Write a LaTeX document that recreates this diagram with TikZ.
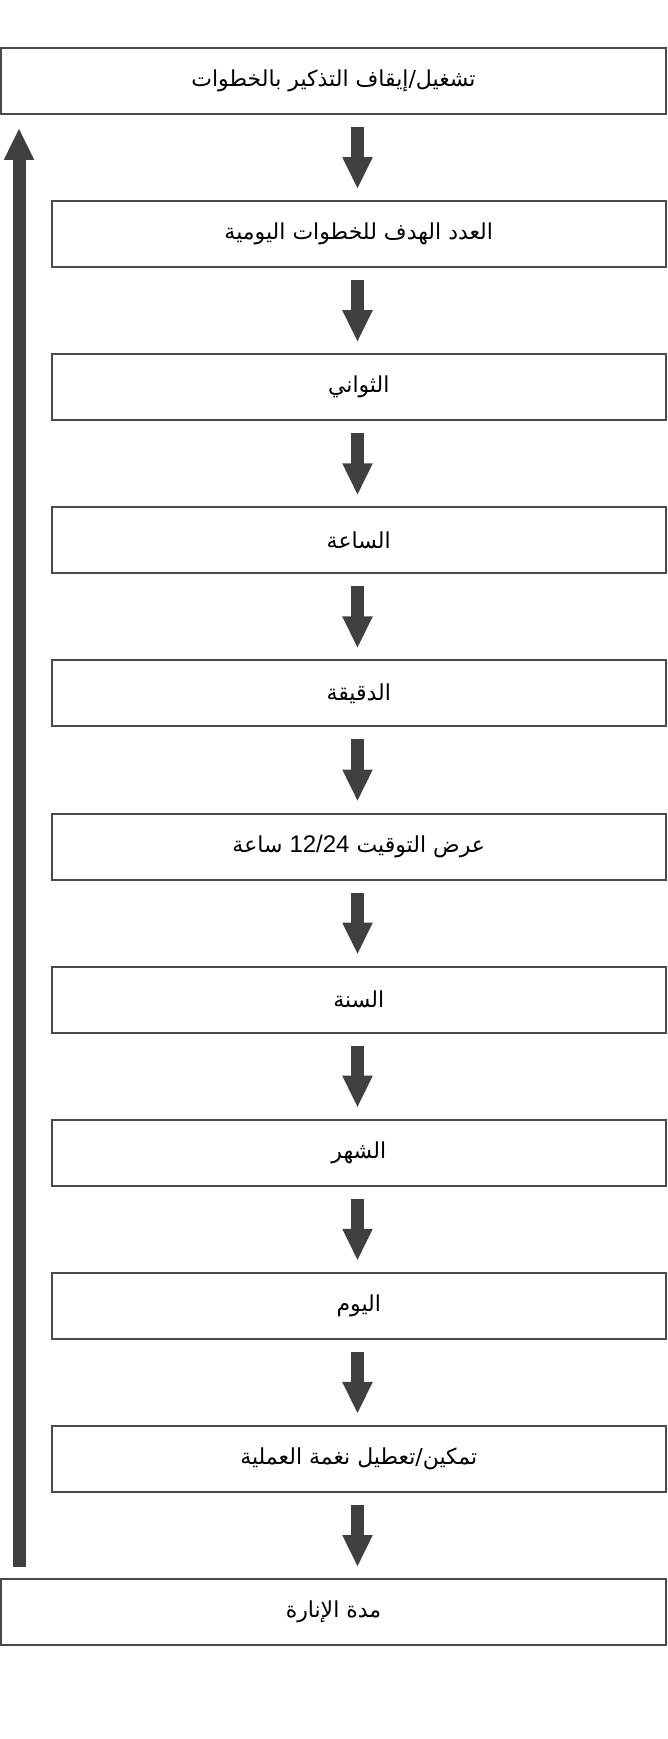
\documentclass[tikz,border=0pt]{standalone}
\usepackage{fontspec}
\usetikzlibrary{arrows.meta}
\TeXXeTstate=1
\newfontfamily\arabicfont[Script=Arabic]{DejaVu Sans}
\newfontfamily\latinsans{Liberation Sans}
\definecolor{bordercol}{HTML}{4A4A4A}
\definecolor{arrowcol}{HTML}{404040}
\newcommand{\ar}[1]{\beginR #1\endR}
\begin{document}
\begin{tikzpicture}[x=1pt,y=-1pt,
  box/.style={draw=bordercol, line width=2pt, fill=white, minimum height=66pt, inner sep=0pt,
    text=black, font=\arabicfont\fontsize{22}{26}\selectfont},
  widebox/.style={box, minimum width=665pt},
  narrowbox/.style={box, minimum width=614.5pt},
  flow/.style={draw=arrowcol, line width=13pt, -{Triangle[width=28pt,length=32pt]}}
]
\useasboundingbox (0,0) rectangle (668,1739);
\def\st{153.1}
\node[widebox]   (b0)  at (333.5, 81) {\ar{تشغيل/إيقاف التذكير بالخطوات}};
\node[narrowbox] (b1)  at (358.75, 81+1*\st) {\ar{العدد الهدف للخطوات اليومية}};
\node[narrowbox] (b2)  at (358.75, 81+2*\st) {\ar{الثواني}};
\node[narrowbox] (b3)  at (358.75, 81+3*\st) {\ar{الساعة}};
\node[narrowbox] (b4)  at (358.75, 81+4*\st) {\ar{الدقيقة}};
\node[narrowbox] (b5)  at (358.75, 81+5*\st) {\ar{عرض التوقيت \beginL{\latinsans\fontsize{24}{26}\selectfont 12/24}\endL{} ساعة}};
\node[narrowbox] (b6)  at (358.75, 81+6*\st) {\ar{السنة}};
\node[narrowbox] (b7)  at (358.75, 81+7*\st) {\ar{الشهر}};
\node[narrowbox] (b8)  at (358.75, 81+8*\st) {\ar{اليوم}};
\node[narrowbox] (b9)  at (358.75, 81+9*\st) {\ar{تمكين/تعطيل نغمة العملية}};
\node[widebox]   (b10) at (333.5, 81+10*\st) {\ar{مدة الإنارة}};
\coordinate (ax) at (357.5,0);
\coordinate (ux) at (19,0);
\foreach \a/\b in {b0/b1,b1/b2,b2/b3,b3/b4,b4/b5,b5/b6,b6/b7,b7/b8,b8/b9,b9/b10}
  \draw[flow, shorten <=12pt, shorten >=11pt] (\a.south -| ax) -- (\b.north -| ax);
\draw[flow, shorten <=11pt, shorten >=13pt] (b10.north -| ux) -- (b0.south -| ux);
\end{tikzpicture}
\end{document}
